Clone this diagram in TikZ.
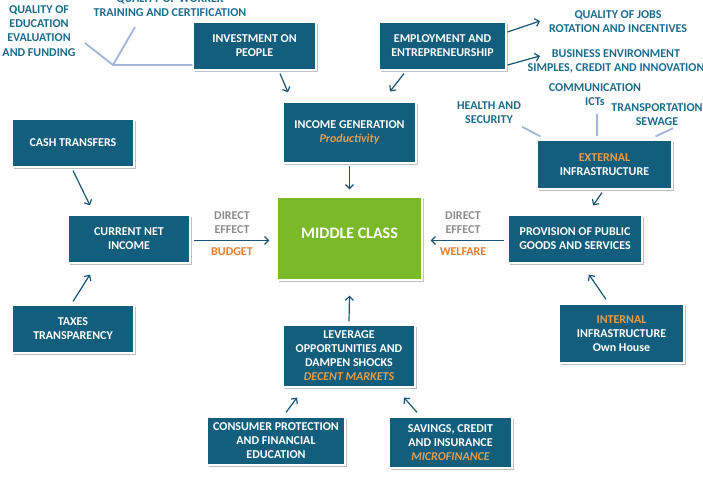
\documentclass[tikz,border=0pt]{standalone}
\usepackage{fontspec}
\setmainfont{Carlito}
\usetikzlibrary{shadows,arrows.meta}
\definecolor{boxc}{RGB}{19,94,124}
\definecolor{midc}{RGB}{122,185,40}
\definecolor{lblc}{RGB}{28,108,142}
\definecolor{arrc}{RGB}{25,85,115}
\definecolor{linec}{RGB}{160,182,218}
\definecolor{orng}{RGB}{232,125,45}
\definecolor{tan}{RGB}{226,158,78}
\definecolor{grayt}{RGB}{140,140,140}
\begin{document}
\begin{tikzpicture}[x=1pt,y=-1pt,
  bx/.style={draw=white, line width=1.2pt, fill=boxc, text=white,
    font=\bfseries\fontsize{12}{14}\selectfont, align=center, inner sep=0pt,
    drop shadow={shadow xshift=1.5pt, shadow yshift=-1.8pt, opacity=0.25, fill=black}},
  lbl/.style={text=lblc, font=\bfseries\fontsize{12}{14.2}\selectfont, align=center, inner sep=0pt},
  eff/.style={text=grayt, font=\bfseries\fontsize{12}{14}\selectfont, align=center, inner sep=0pt},
  effo/.style={text=orng, font=\bfseries\fontsize{12}{14}\selectfont, inner sep=0pt},
  arr/.style={draw=arrc, line width=1.2pt, -{Straight Barb[length=4pt,width=8pt]}},
  lline/.style={draw=linec, line width=1.8pt}]
\useasboundingbox (0,0) rectangle (703,477);
\clip (0,0) rectangle (703,477);
\fill[white] (0,0) rectangle (703,477);

% boxes
\node[bx, minimum width=123pt, minimum height=48pt] (inv) at (254.5,46) {INVESTMENT ON\\PEOPLE};
\node[bx, minimum width=127pt, minimum height=48pt] (emp) at (442.5,46) {EMPLOYMENT AND\\ENTREPRENEURSHIP};
\node[bx, minimum width=133pt, minimum height=61pt] (inc) at (349.5,132.5) {INCOME GENERATION\\\textcolor{tan}{\itshape Productivity}};
\node[bx, fill=midc, font=\bfseries\fontsize{16}{18}\selectfont, minimum width=145pt, minimum height=83pt] (mid) at (349.5,238.5) {\raisebox{10pt}{MIDDLE CLASS}};
\node[bx, minimum width=132pt, minimum height=62pt] (lev) at (349,356) {LEVERAGE\\OPPORTUNITIES AND\\DAMPEN SHOCKS\\\textcolor{tan}{\itshape DECENT MARKETS}};
\node[bx, minimum width=134pt, minimum height=48pt] (prov) at (575,239) {PROVISION OF PUBLIC\\GOODS AND SERVICES};
\node[bx, minimum width=135pt, minimum height=49pt] (ext) at (604.5,164.5) {\textcolor{tan}{EXTERNAL}\\INFRASTRUCTURE};
\node[bx, minimum width=125pt, minimum height=59pt] (int) at (621.5,333.5) {\textcolor{tan}{INTERNAL}\\INFRASTRUCTURE\\Own House};
\node[bx, minimum width=122pt, minimum height=48pt] (cash) at (73,143) {CASH TRANSFERS};
\node[bx, minimum width=122pt, minimum height=48pt] (cur) at (129,239) {CURRENT NET\\INCOME};
\node[bx, minimum width=122pt, minimum height=48pt] (tax) at (73,329) {TAXES\\TRANSPARENCY};
\node[bx, minimum width=138pt, minimum height=48pt] (cons) at (276,441) {CONSUMER PROTECTION\\AND FINANCIAL\\EDUCATION};
\node[bx, minimum width=123pt, minimum height=51pt] (sav) at (450.5,442.5) {SAVINGS, CREDIT\\AND INSURANCE\\\textcolor{tan}{\itshape MICROFINANCE}};

% labels
\node[lbl] (edu) at (39,31) {QUALITY OF\\EDUCATION\\EVALUATION\\AND FUNDING};
\node[lbl] (work) at (170,5.5) {QUALITY OF WORKER\\TRAINING AND CERTIFICATION};
\node[lbl] (jobs) at (618,22) {QUALITY OF JOBS\\ROTATION AND INCENTIVES};
\node[lbl] (bus) at (616,61.5) {BUSINESS ENVIRONMENT\\SIMPLES, CREDIT AND INNOVATION};
\node[lbl] (comm) at (595,95) {COMMUNICATION\\ICTs};
\node[lbl] (trans) at (657,115) {TRANSPORTATION\\SEWAGE};
\node[lbl] (health) at (489,112.5) {HEALTH AND\\SECURITY};
\node[eff] (del) at (232,223) {DIRECT\\EFFECT};
\node[effo] (bud) at (232,252) {BUDGET};
\node[eff] (der) at (463,223) {DIRECT\\EFFECT};
\node[effo] (wel) at (463,252) {WELFARE};

% light connector lines
\coordinate (j1) at (113,65);
\coordinate (e1) at (85,43);
\coordinate (w1) at (135,27);
\draw[lline] (e1) -- (j1) -- ([yshift=-19pt]inv.west);
\draw[lline] (w1) -- (j1);
\draw[lline] ([xshift=33pt,yshift=-3pt]health.south) -- ([xshift=-64pt,yshift=3pt]ext.north);
\draw[lline] ([xshift=2pt,yshift=-8pt]comm.south) -- ([xshift=-7.5pt,yshift=3pt]ext.north);
\draw[lline] ([xshift=16pt,yshift=-2pt]trans.south) -- ([xshift=51pt,yshift=3pt]ext.north);

% arrows
\draw[arr] ([xshift=25.5pt,yshift=-3pt]inv.south) -- ([xshift=-61.5pt,yshift=9pt]inc.north);
\draw[arr] ([xshift=-38.5pt,yshift=-3pt]emp.south) -- ([xshift=40.5pt,yshift=10pt]inc.north);
\draw[arr] ([yshift=-2pt]inc.south) -- ([yshift=7pt]mid.north);
\draw[arr] ([yshift=3pt]lev.north) -- ([yshift=-15pt]mid.south);
\draw[arr] ([xshift=3pt,yshift=-1.5pt]cur.east) -- ([xshift=-7pt,yshift=-2pt]mid.west);
\draw[arr] ([xshift=-3pt,yshift=-1.5pt]prov.west) -- ([xshift=8pt,yshift=-2pt]mid.east);
\draw[arr] ([yshift=-3pt]cash.south) -- ([xshift=-39pt,yshift=9pt]cur.north);
\draw[arr] ([yshift=3pt]tax.north) -- ([xshift=-39pt,yshift=-11pt]cur.south);
\draw[arr] ([xshift=-2.5pt,yshift=-3pt]ext.south) -- ([xshift=18pt,yshift=9pt]prov.north);
\draw[arr] ([xshift=-15.5pt,yshift=4pt]int.north) -- ([xshift=14pt,yshift=-11pt]prov.south);
\draw[arr] ([xshift=10pt,yshift=4pt]cons.north) -- ([xshift=-52pt,yshift=-10pt]lev.south);
\draw[arr] ([xshift=-33.5pt,yshift=4pt]sav.north) -- ([xshift=55pt,yshift=-10pt]lev.south);
\coordinate (jt) at (540,21);
\coordinate (bt) at (540,56);
\draw[arr] ([xshift=1pt,yshift=14pt]emp.east) -- (jt);
\draw[arr] ([xshift=1pt,yshift=-19pt]emp.east) -- (bt);
\end{tikzpicture}
\end{document}
